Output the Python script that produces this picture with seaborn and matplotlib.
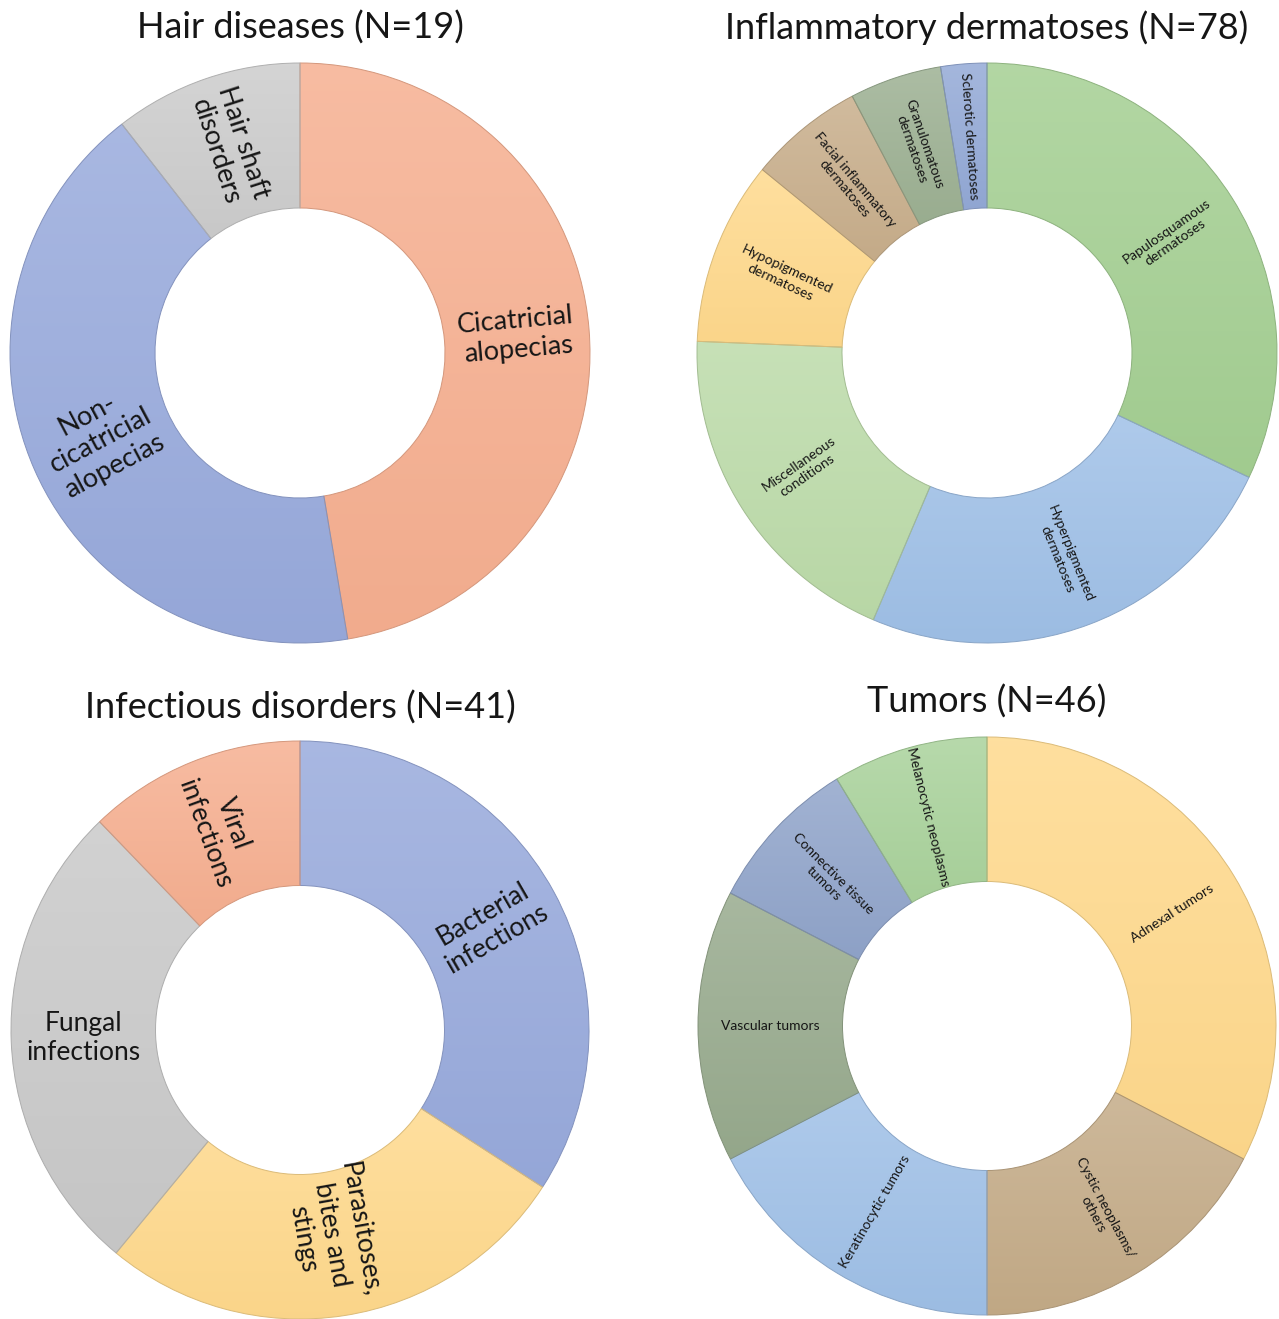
import numpy as np
import matplotlib
matplotlib.use("Agg")
import matplotlib.pyplot as plt
import matplotlib.colors as mcolors
import seaborn as sns

# ---- data -------------------------------------------------------------
hair_labels = ["Cicatricial\nalopecias", "Non-\ncicatricial\nalopecias", "Hair shaft\ndisorders"]
hair_counts = [9, 8, 2]

inflam_labels = ["Papulosquamous\ndermatoses", "Hyperpigmented\ndermatoses",
                 "Miscellaneous\nconditions", "Hypopigmented\ndermatoses",
                 "Facial inflammatory\ndermatoses", "Granulomatous\ndermatoses",
                 "Sclerotic dermatoses"]
inflam_counts = [25, 19, 15, 8, 5, 4, 2]

infect_labels = ["Bacterial\ninfections", "Parasitoses,\nbites and\nstings",
                 "Fungal\ninfections", "Viral\ninfections"]
infect_counts = [14, 11, 11, 5]

tumor_labels = ["Adnexal tumors", "Cystic neoplasms/\nothers", "Keratinocytic tumors",
                "Vascular tumors", "Connective tissue\ntumors", "Melanocytic neoplasms"]
tumor_counts = [15, 8, 8, 7, 4, 4]

titles = ["Hair diseases (N=19)", "Inflammatory dermatoses (N=78)",
          "Infectious disorders (N=41)", "Tumors (N=46)"]

# ---- styling ----------------------------------------------------------
hair_colors = ["#F6AF90", "#98AADC", "#CCCCCC"]
inflam_colors = ["#A4CF92", "#9FC0E7", "#BCDBA9", "#FFD98C", "#C8AE8B", "#9CB092", "#93A9D6"]
infect_colors = ["#98AADC", "#FFD98C", "#C9C9C9", "#F6AF90"]
tumor_colors = ["#FFD98C", "#C4AB87", "#9FC0E7", "#97AA8D", "#90A4CA", "#A9D29B"]

hair_rot = [5, 28, -72]
inflam_rot = [35, -68, 35, -25, -50, -71, -86]
infect_rot = [30, -80, 0, -70]
tumor_rot = [33, -62, 60, 0, -45, -76]

# radial position of each label (fraction of outer radius)
infect_lr = [0.75, 0.715, 0.75, 0.75]

sns.set_theme(style="white")
plt.rcParams["font.family"] = ["Lato", "DejaVu Sans"]

W, H = 1279, 1319
fig = plt.figure(figsize=(W / 100, H / 100), dpi=100)
fig.patch.set_facecolor("white")

TEXT = "#161616"
PAD = 1.02


def shade(c, f):
    rgb = np.array(mcolors.to_rgb(c))
    if f >= 0:
        return rgb + (1 - rgb) * f
    return rgb * (1 + f)


def donut(cx, cy, r, counts, colors, labels, rots, fsize, lr=None):
    if lr is None:
        lr = [0.75] * len(counts)
    R = r * PAD
    ax = fig.add_axes([(cx - R) / W, 1 - (cy + R) / H, 2 * R / W, 2 * R / H])
    wedges, _ = ax.pie(counts, colors=colors, startangle=90, counterclock=False,
                       radius=1, wedgeprops=dict(width=0.5, linewidth=0.7))
    total = float(sum(counts))
    start = 0.0
    for w, c, lab, rot, n, rr in zip(wedges, colors, labels, rots, counts, lr):
        # vertical gradient fill, lighter at the top of each segment
        ext = w.get_path().get_extents()
        g = np.linspace(0, 1, 256)[:, None, None]
        top, bot = shade(c, 0.16), shade(c, -0.02)
        img = top[None, None, :] * (1 - g) + bot[None, None, :] * g
        im = ax.imshow(img, extent=(ext.x0, ext.x1, ext.y0, ext.y1), origin="upper",
                       aspect="auto", zorder=0.5, interpolation="bilinear")
        im.set_clip_path(w)
        w.set_facecolor("none")
        w.set_edgecolor(shade(c, -0.14))
        # label at the middle of the ring segment
        mid = start + n / 2.0
        ang = np.deg2rad(90 - 360 * mid / total)
        ax.text(rr * np.cos(ang), rr * np.sin(ang), lab, rotation=rot,
                rotation_mode="anchor", ha="center", va="center",
                multialignment="center", fontsize=fsize, color=TEXT,
                linespacing=1.2, zorder=3)
        start += n
    ax.set_xlim(-PAD, PAD)
    ax.set_ylim(-PAD, PAD)
    ax.set_aspect("auto")
    ax.axis("off")
    return ax


donut(300, 353, 290, hair_counts, hair_colors, hair_labels, hair_rot, 19.5)
donut(987, 353, 290, inflam_counts, inflam_colors, inflam_labels, inflam_rot, 10)
donut(300, 1030, 289, infect_counts, infect_colors, infect_labels, infect_rot, 19, infect_lr)
donut(987, 1026, 289, tumor_counts, tumor_colors, tumor_labels, tumor_rot, 10)

for (tx, ty), t in zip([(300, 28), (987, 28), (300, 708), (987, 702)], titles):
    fig.text(tx / W, 1 - ty / H, t, ha="center", va="center", fontsize=26, color=TEXT)

fig.savefig("out.png", dpi=100, facecolor="white")
